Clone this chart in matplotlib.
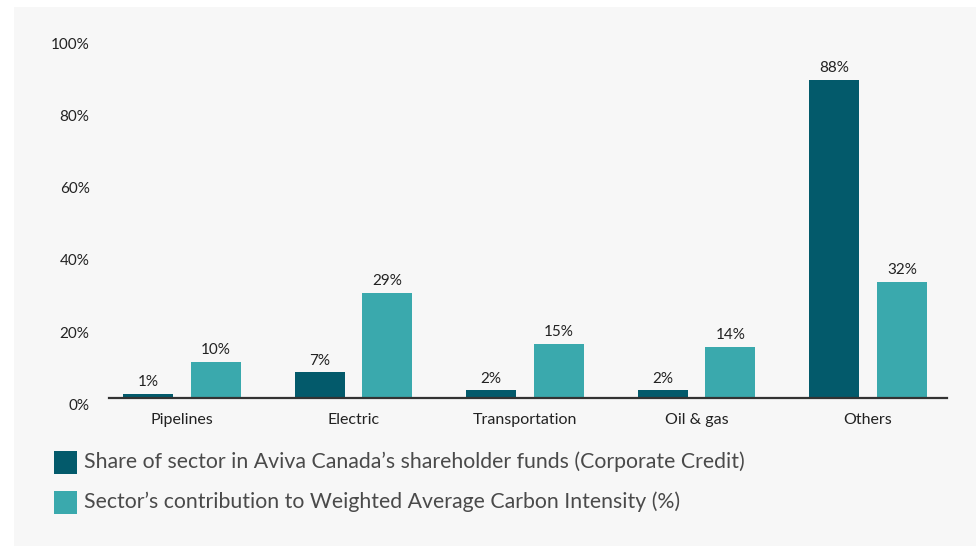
import numpy as np
import matplotlib.pyplot as plt
import matplotlib.transforms as mtrans
from matplotlib.patches import Rectangle

sectors = ["Pipelines", "Electric", "Transportation", "Oil & gas", "Others"]
share_funds = [1, 7, 2, 2, 88]
waci_contrib = [10, 29, 15, 14, 32]
y_ticks = [0, 20, 40, 60, 80, 100]
legend_labels = [
    "Share of sector in Aviva Canada\u2019s shareholder funds (Corporate Credit)",
    "Sector\u2019s contribution to Weighted Average Carbon Intensity (%)",
]

DARK = "#035a6b"
TEAL = "#3aa9ad"
BG = "#f7f7f7"
FONT = "Lato"

W, H = 976, 546
fig = plt.figure(figsize=(W / 100, H / 100), dpi=100, facecolor="white")
fig.patches.append(Rectangle((14 / W, 0), 1 - 14 / W, 1 - 7 / H,
                             transform=fig.transFigure, facecolor=BG,
                             edgecolor="none", zorder=-10))

ax = fig.add_axes([109 / W, 1 - 397.7 / H, (947 - 109) / W, (397.7 - 36.7) / H])
ax.set_facecolor("none")

x = np.arange(len(sectors))
bw = 0.29
off = 0.197
b1 = ax.bar(x - off, share_funds, bw, color=DARK)
b2 = ax.bar(x + off, waci_contrib, bw, color=TEAL)

for bars, vals in ((b1, share_funds), (b2, waci_contrib)):
    for b, v in zip(bars, vals):
        ax.annotate(f"{v}%", (b.get_x() + b.get_width() / 2, v),
                    xytext=(0, 3.5), textcoords="offset points",
                    ha="center", va="bottom", fontsize=11,
                    family=FONT, color="#222222")

ax.set_xlim(-0.425, 4.46)
ax.set_ylim(0, 100)
ax.set_xticks(x)
ax.set_xticklabels(sectors, family=FONT, fontsize=11.5, color="#222222")
ax.set_yticks(y_ticks)
ax.set_yticklabels([f"{t}%" for t in y_ticks], family=FONT, fontsize=11,
                   color="#222222", va="center")
ax.tick_params(axis="both", length=0)
ax.tick_params(axis="y", pad=14)
ax.tick_params(axis="x", pad=11)
for side in ("top", "right", "left"):
    ax.spines[side].set_visible(False)
ax.spines["bottom"].set_color("#333333")
ax.spines["bottom"].set_linewidth(1.6)

# y labels sit a little below their value positions
shift = mtrans.ScaledTranslation(0, -8 / 100, fig.dpi_scale_trans)
for lbl in ax.get_yticklabels():
    lbl.set_transform(lbl.get_transform() + shift)

# legend drawn as squares and text in figure pixels
for i, (lab, col) in enumerate(zip(legend_labels, (DARK, TEAL))):
    cy = 462 + i * 40
    fig.patches.append(Rectangle((54 / W, 1 - (cy + 11.5) / H), 23 / W, 23 / H,
                                 transform=fig.transFigure, facecolor=col,
                                 edgecolor="none"))
    fig.text(84 / W, 1 - cy / H, lab, ha="left", va="center",
             fontsize=15.3, family=FONT, color="#4a4a4a")

fig.savefig("out.png", dpi=100, facecolor=fig.get_facecolor())
